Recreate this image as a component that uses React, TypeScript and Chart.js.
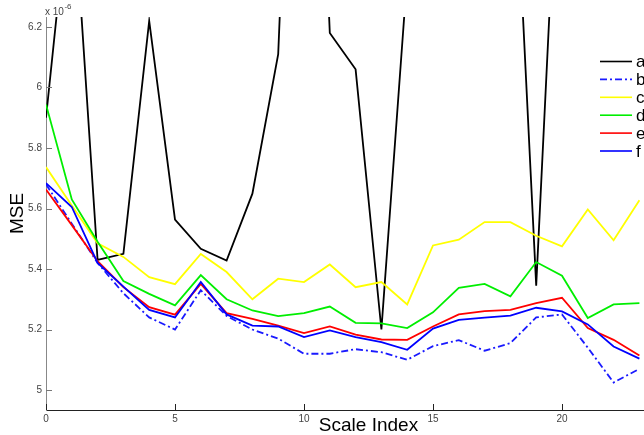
import React, { useEffect, useRef } from "react";
import { Chart, registerables } from "chart.js";

Chart.register(...registerables);

const scaleIndex = [0, 1, 2, 3, 4, 5, 6, 7, 8, 9, 10, 11, 12, 13, 14, 15, 16, 17, 18, 19, 20, 21, 22, 23];
const xTicks = [0, 5, 10, 15, 20, 25];
const yTicks = [5, 5.2, 5.4, 5.6, 5.8, 6, 6.2];
const seriesNames = ["a", "b", "c", "d", "e", "f"];

// MSE values in units of 1e-6
const seriesA = [5.9, 6.72, 5.43, 5.45, 6.22, 5.563, 5.467, 5.428, 5.649, 6.11, 8.2, 6.18, 6.06, 5.2, 6.37, 7.2, 7.4, 7.3, 7.08, 5.345, 7.1, 7.3, 7.2, 7.4];
const seriesB = [5.68, 5.55, 5.42, 5.32, 5.24, 5.2, 5.33, 5.245, 5.2, 5.17, 5.12, 5.12, 5.135, 5.125, 5.1, 5.145, 5.165, 5.13, 5.155, 5.24, 5.25, 5.14, 5.025, 5.07];
const seriesC = [5.737, 5.61, 5.485, 5.44, 5.373, 5.35, 5.45, 5.39, 5.3, 5.368, 5.357, 5.415, 5.34, 5.357, 5.283, 5.478, 5.497, 5.555, 5.555, 5.51, 5.475, 5.597, 5.495, 5.627];
const seriesD = [5.944, 5.63, 5.49, 5.36, 5.318, 5.28, 5.38, 5.3, 5.263, 5.244, 5.254, 5.276, 5.222, 5.22, 5.205, 5.257, 5.338, 5.351, 5.31, 5.423, 5.378, 5.238, 5.283, 5.287];
const seriesE = [5.663, 5.545, 5.426, 5.34, 5.274, 5.249, 5.351, 5.254, 5.235, 5.213, 5.188, 5.21, 5.183, 5.167, 5.166, 5.21, 5.25, 5.261, 5.265, 5.287, 5.305, 5.205, 5.166, 5.114];
const seriesF = [5.684, 5.605, 5.42, 5.342, 5.265, 5.24, 5.357, 5.25, 5.213, 5.21, 5.175, 5.197, 5.175, 5.158, 5.133, 5.203, 5.232, 5.239, 5.246, 5.272, 5.26, 5.217, 5.144, 5.104];

const allSeries = [seriesA, seriesB, seriesC, seriesD, seriesE, seriesF];
const colors = ["#000000", "#1a1aff", "#ffff00", "#00ee00", "#ff0000", "#0000ff"];
const dashes: number[][] = [[], [7, 3, 2, 3], [], [], [], []];

const FONT = "'Liberation Sans', Arial, Helvetica, sans-serif";

const decorPlugin = {
  id: "decor",
  afterDraw(chart: any) {
    const { ctx, chartArea } = chart;
    const xs = chart.scales.x;
    const ys = chart.scales.y;
    ctx.save();
    // inward tick marks
    ctx.lineWidth = 1;
    ctx.strokeStyle = "#222";
    xTicks.forEach((v) => {
      const px = Math.round(xs.getPixelForValue(v)) + 0.5;
      ctx.beginPath();
      ctx.moveTo(px, chartArea.bottom);
      ctx.lineTo(px, chartArea.bottom - 6);
      ctx.stroke();
    });
    ctx.strokeStyle = "#777";
    yTicks.forEach((v) => {
      const py = Math.round(ys.getPixelForValue(v)) + 0.5;
      ctx.beginPath();
      ctx.moveTo(chartArea.left, py);
      ctx.lineTo(chartArea.left + 6, py);
      ctx.stroke();
    });
    // exponent label
    ctx.fillStyle = "#444";
    ctx.textBaseline = "alphabetic";
    ctx.textAlign = "left";
    ctx.font = "10px " + FONT;
    const base = "x 10";
    ctx.fillText(base, 45, 15);
    const w = ctx.measureText(base).width;
    ctx.font = "8px " + FONT;
    ctx.fillText("-6", 45 + w + 0.5, 8.5);
    // legend
    chart.data.datasets.forEach((ds: any, i: number) => {
      const y = 61.5 + i * 17.9;
      ctx.save();
      ctx.strokeStyle = ds.borderColor;
      ctx.lineWidth = 1.6;
      ctx.setLineDash(ds.borderDash || []);
      ctx.beginPath();
      ctx.moveTo(600, y);
      ctx.lineTo(632, y);
      ctx.stroke();
      ctx.restore();
      ctx.fillStyle = "#000";
      ctx.font = "17px " + FONT;
      ctx.textBaseline = "middle";
      ctx.textAlign = "left";
      ctx.fillText(ds.label, 636, y + 1);
    });
    ctx.restore();
  },
};

export default function App() {
  const ref = useRef<HTMLCanvasElement | null>(null);

  useEffect(() => {
    document.body.style.margin = "0";
    const canvas = ref.current;
    if (!canvas) return;
    Chart.defaults.font.family = FONT;
    const datasets = allSeries.map((vals, i) => ({
      label: seriesNames[i],
      data: scaleIndex.map((x, j) => ({ x, y: vals[j] })),
      borderColor: colors[i],
      backgroundColor: colors[i],
      borderWidth: 1.8,
      borderDash: dashes[i],
      pointRadius: 0,
      tension: 0,
      fill: false,
      order: 5 - i,
    }));
    const chart = new Chart(canvas, {
      type: "line",
      data: { datasets },
      options: {
        animation: false,
        responsive: false,
        maintainAspectRatio: false,
        layout: { padding: { top: 17, right: 9, left: 0, bottom: 0 } },
        plugins: {
          legend: { display: false },
          tooltip: { enabled: false },
        },
        scales: {
          x: {
            type: "linear",
            min: 0,
            max: 25,
            afterFit(scale: any) {
              scale.height = 25;
            },
            afterBuildTicks(scale: any) {
              scale.ticks = xTicks.map((v) => ({ value: v }));
            },
            grid: { display: false, drawTicks: false },
            border: { display: true, color: "#222", width: 1 },
            ticks: {
              color: "#444",
              font: { size: 10, family: FONT },
              padding: 3,
              maxRotation: 0,
              autoSkip: false,
              callback: (v: any) => String(v),
            },
            title: {
              display: true,
              text: "Scale Index",
              color: "#000",
              font: { size: 19, family: FONT, lineHeight: 1 },
              padding: { top: 0, bottom: 0 },
            },
          },
          y: {
            type: "linear",
            min: 4.934,
            max: 6.233,
            afterFit(scale: any) {
              scale.width = 46;
            },
            afterBuildTicks(scale: any) {
              scale.ticks = yTicks.map((v) => ({ value: v }));
            },
            grid: { display: false, drawTicks: false },
            border: { display: true, color: "#888", width: 1 },
            ticks: {
              color: "#444",
              font: { size: 10, family: FONT },
              padding: 4,
              autoSkip: false,
              callback: (v: any) => String(Math.round(Number(v) * 10) / 10),
            },
            title: {
              display: true,
              text: "MSE",
              color: "#000",
              font: { size: 19, family: FONT, lineHeight: 1 },
              padding: { top: 8, bottom: 0 },
            },
          },
        },
      },
      plugins: [decorPlugin],
    });
    return () => chart.destroy();
  }, []);

  return (
    <div
      style={{
        position: "fixed",
        left: 0,
        top: 0,
        width: 644,
        height: 435,
        overflow: "hidden",
        background: "#fff",
      }}
    >
      <canvas ref={ref} width={700} height={435} style={{ width: 700, height: 435, display: "block" }} />
    </div>
  );
}
